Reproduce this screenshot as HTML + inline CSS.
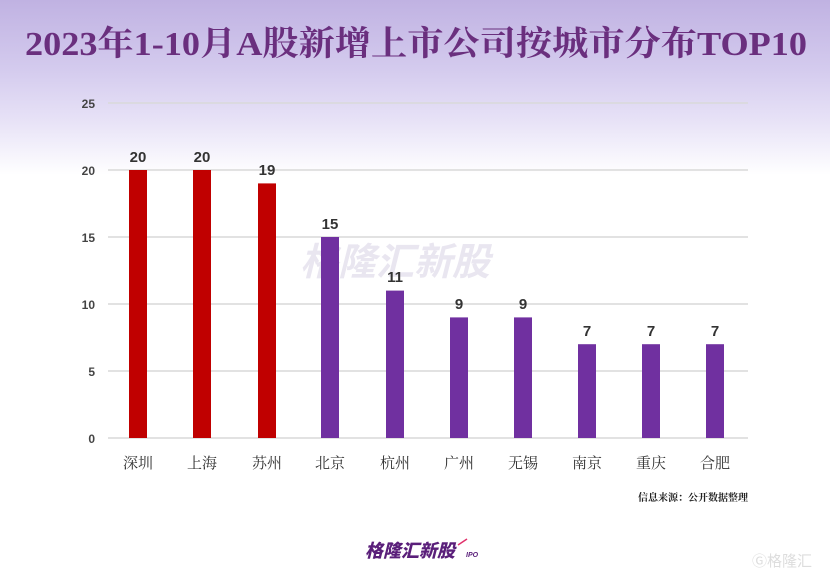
<!DOCTYPE html>
<html><head><meta charset="utf-8"><style>
body{margin:0;width:830px;height:580px;overflow:hidden;background:#fff}
svg{display:block}
</style></head><body>
<svg width="830" height="580" xmlns="http://www.w3.org/2000/svg">
<defs>
<linearGradient id="bg" x1="0" y1="0" x2="0" y2="1">
<stop offset="0" stop-color="#c0b2e2"/>
<stop offset="0.4" stop-color="#d4cbee"/>
<stop offset="0.7" stop-color="#e8e3f7"/>
<stop offset="1" stop-color="#ffffff"/>
</linearGradient>
</defs>
<rect width="830" height="580" fill="#fff"/>
<rect width="830" height="175" fill="url(#bg)"/>
<text x="416" y="55" text-anchor="middle" textLength="782" lengthAdjust="spacingAndGlyphs" font-family="'Liberation Serif','Noto Serif CJK SC',serif" font-weight="bold" font-size="34" fill="#6a2f7e">2023年1-10月A股新增上市公司按城市分布TOP10</text>
<g stroke="#d9d9d9" stroke-width="1.5">
<line x1="108" y1="103" x2="748" y2="103"/><line x1="108" y1="170" x2="748" y2="170"/>
<line x1="108" y1="237" x2="748" y2="237"/><line x1="108" y1="304" x2="748" y2="304"/>
<line x1="108" y1="371" x2="748" y2="371"/><line x1="108" y1="438" x2="748" y2="438"/>
</g>
<g font-family="'Liberation Sans',sans-serif" font-weight="bold" font-size="12" fill="#444" text-anchor="end">
<text x="95" y="108">25</text><text x="95" y="175">20</text><text x="95" y="242">15</text>
<text x="95" y="309">10</text><text x="95" y="376">5</text><text x="95" y="443">0</text>
</g>
<text x="395" y="275" text-anchor="middle" font-family="'Noto Sans CJK SC',sans-serif" font-weight="bold" font-style="italic" font-size="38" fill="#b8aed0" opacity="0.3">格隆汇新股</text>
<g>
<rect x="129" y="170" width="18" height="268" fill="#c00000"/>
<rect x="193" y="170" width="18" height="268" fill="#c00000"/>
<rect x="258" y="183.4" width="18" height="254.6" fill="#c00000"/>
<rect x="321" y="237" width="18" height="201" fill="#7030a0"/>
<rect x="386" y="290.6" width="18" height="147.4" fill="#7030a0"/>
<rect x="450" y="317.4" width="18" height="120.6" fill="#7030a0"/>
<rect x="514" y="317.4" width="18" height="120.6" fill="#7030a0"/>
<rect x="578" y="344.2" width="18" height="93.8" fill="#7030a0"/>
<rect x="642" y="344.2" width="18" height="93.8" fill="#7030a0"/>
<rect x="706" y="344.2" width="18" height="93.8" fill="#7030a0"/>
</g>
<g font-family="'Liberation Sans',sans-serif" font-weight="bold" font-size="15" fill="#333" text-anchor="middle">
<text x="138" y="162">20</text><text x="202" y="162">20</text><text x="267" y="175">19</text>
<text x="330" y="229">15</text><text x="395" y="282">11</text><text x="459" y="309">9</text>
<text x="523" y="309">9</text><text x="587" y="336">7</text><text x="651" y="336">7</text><text x="715" y="336">7</text>
</g>
<g font-family="'Noto Serif CJK SC',serif" font-size="15" fill="#333" text-anchor="middle">
<text x="138" y="468">深圳</text><text x="202" y="468">上海</text><text x="267" y="468">苏州</text>
<text x="330" y="468">北京</text><text x="395" y="468">杭州</text><text x="459" y="468">广州</text>
<text x="523" y="468">无锡</text><text x="587" y="468">南京</text><text x="651" y="468">重庆</text><text x="715" y="468">合肥</text>
</g>
<text x="638" y="501" font-family="'Noto Serif CJK SC',serif" font-weight="bold" font-size="10" fill="#222">信息来源：公开数据整理</text>
<text x="365" y="557" font-family="'Noto Sans CJK SC',sans-serif" font-weight="900" font-style="italic" font-size="18" fill="#5a1f7a">格隆汇新股</text>
<text x="466" y="557" font-family="'Liberation Sans',sans-serif" font-weight="bold" font-style="italic" font-size="7" fill="#5a1f7a">IPO</text>
<path d="M458 545 L467 539" stroke="#e0306a" stroke-width="1.5"/>
<text x="752" y="566" font-family="'Noto Sans CJK SC',sans-serif" font-size="15" fill="#ddd">Ⓖ格隆汇</text>
</svg>
</body></html>
